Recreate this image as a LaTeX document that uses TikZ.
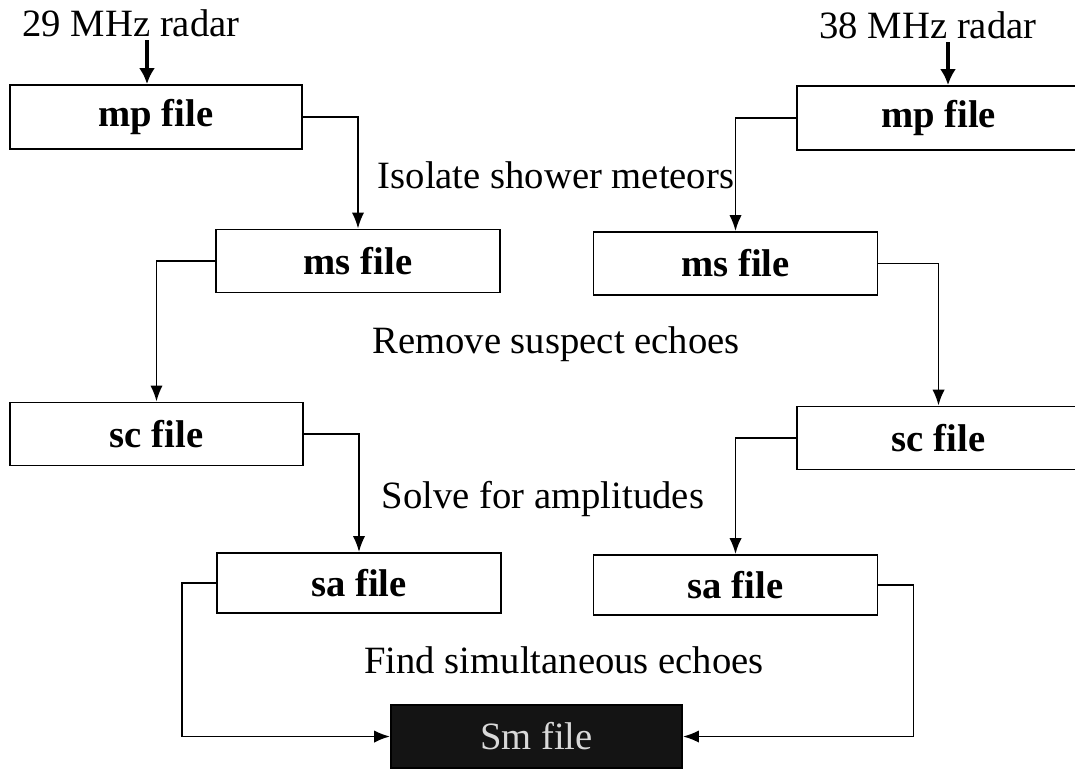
\documentclass[tikz,border=0pt]{standalone}
\usepackage{fontspec}
\setmainfont{Liberation Serif}
\usepackage{tikz}
\usetikzlibrary{arrows.meta}
\tikzset{filebox/.style={draw, line width=1.1pt, minimum width=284*0.02cm, minimum height=63*0.02cm,
      inner sep=0pt, font=\fontsize{22}{26}\selectfont\bfseries}}
\tikzset{steplabel/.style={inner sep=0pt, font=\fontsize{22}{26}\selectfont}}
\tikzset{conn/.style={line width=1.1pt, -{Latex[length=9pt,width=7pt]}}}
\tikzset{feed/.style={line width=2.4pt, -{Latex[length=9pt,width=9pt]}}}

\begin{document}
\begin{tikzpicture}[x=0.02cm,y=-0.02cm]
		\useasboundingbox (0,0) rectangle (1075,769);
		\node[steplabel] (r29) at (131,23) {29 MHz radar};
		\node[steplabel] (r38) at (928,25) {38 MHz radar};
		\node[filebox, minimum width=292*0.02cm, minimum height=64*0.02cm] (mpL) at (156,117) {mp file};
		\node[filebox, minimum width=283*0.02cm, minimum height=64*0.02cm] (mpR) at (938.5,118) {mp file};
		\node[filebox] (msL) at (358,261) {ms file};
		\node[filebox] (msR) at (735.5,263.5) {ms file};
		\node[filebox, minimum width=293*0.02cm] (scL) at (156.5,434) {sc file};
		\node[filebox, minimum width=283*0.02cm] (scR) at (938.5,438) {sc file};
		\node[filebox, minimum height=60*0.02cm] (saL) at (359,583) {sa file};
		\node[filebox, minimum height=60*0.02cm] (saR) at (735.5,585) {sa file};
		\node[draw, fill=black!92, text=white!85!black, line width=1.1pt, minimum width=291*0.02cm,
		      minimum height=63*0.02cm, inner sep=0pt, font=\fontsize{22}{26}\selectfont] (sm) at (536.5,736.5) {Sm file};
		\node[steplabel] (iso) at (556,175) {Isolate shower meteors};
		\node[steplabel] (rem) at (556,344) {Remove suspect echoes};
		\node[steplabel] (sol) at (543,499) {Solve for amplitudes};
		\node[steplabel] (fnd) at (564,660) {Find simultaneous echoes};
		\coordinate (f29) at (147,40);
		\coordinate (f38) at (948,42);
		\draw[feed] (f29) -- (f29 |- mpL.north);
		\draw[feed] (f38) -- (f38 |- mpR.north);
		\draw[conn] (mpL.east) -| (msL.north);
		\draw[conn] (mpR.west) -| (msR.north);
		\draw[conn] (msL.west) -| (scL.north);
		\draw[conn] (msR.east) -| (scR.north);
		\draw[conn] (scL.east) -| (saL.north);
		\draw[conn] (scR.west) -| (saR.north);
		\draw[conn] (saL.west) -- ++(-34,0) |- (sm.west);
		\draw[conn] (saR.east) -- ++(35,0) |- (sm.east);
\end{tikzpicture}
\end{document}
